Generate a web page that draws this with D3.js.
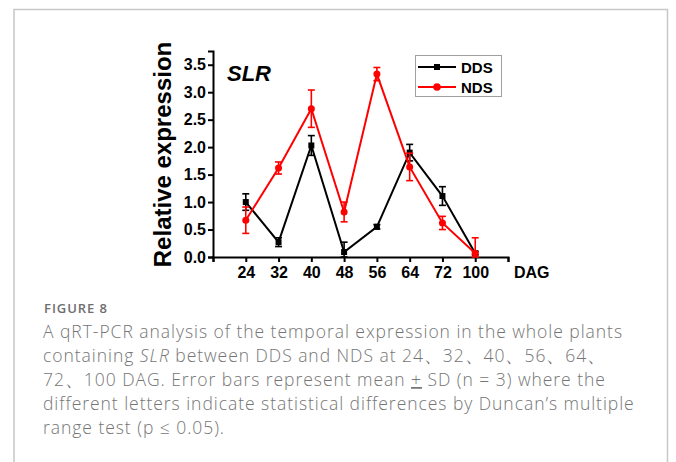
<!DOCTYPE html>
<html><head><meta charset="utf-8">
<script src="https://cdn.jsdelivr.net/npm/d3@7"></script>
<style>body{margin:0;background:#fff}svg{display:block}</style>
</head><body>
<svg id="c" width="676" height="462"></svg>
<script>
const categories = ["24","32","40","48","56","64","72","100"];
const ddsValues = [1.00, 0.27, 2.03, 0.09, 0.55, 1.90, 1.11, 0.07];
const ddsErrors = [0.15, 0.08, 0.18, 0.18, 0.04, 0.15, 0.17, 0.03];
const ndsValues = [0.67, 1.62, 2.70, 0.82, 3.33, 1.64, 0.62, 0.07];
const ndsErrors = [0.24, 0.11, 0.34, 0.18, 0.12, 0.25, 0.12, 0.28];
const yTicks = [0, 0.5, 1.0, 1.5, 2.0, 2.5, 3.0, 3.5];
const captionLines = [
  [{t:"A qRT-PCR analysis of the temporal expression in the whole plants"}],
  [{t:"containing "},{t:"SLR",i:true},{t:" between DDS and NDS at 24、32、40、56、64、"}],
  [{t:"72、100 DAG. Error bars represent mean "},{t:"+",u:true},{t:" SD (n = 3) where the"}],
  [{t:"different letters indicate statistical differences by Duncan’s multiple"}],
  [{t:"range test (p ≤ 0.05)."}]
];

const svg = d3.select("#c");
svg.append("path").attr("d","M14,470 V9.5 H667.5 V470").attr("fill","none").attr("stroke","#c8c8c8").attr("stroke-width",1.5);

const x = d3.scaleLinear().domain([0, categories.length+1]).range([213, 508]);
const y = d3.scaleLinear().domain([0, 3.75]).range([257, 51]);
const font = "'Liberation Sans', Arial, sans-serif";

const yAxis = svg.append("g").attr("transform","translate(213,0)")
  .call(d3.axisLeft(y).tickValues(yTicks).tickFormat(d3.format(".1f")).tickSizeOuter(0).tickSize(5).tickPadding(2));
const xAxis = svg.append("g").attr("transform","translate(0,257)")
  .call(d3.axisBottom(x).tickValues(d3.range(0, categories.length+2)).tickFormat(d => (d>=1 && d<=categories.length) ? categories[d-1] : "").tickSizeOuter(0).tickSize(5).tickPadding(5));
[yAxis, xAxis].forEach(a => {
  a.attr("font-size",null).attr("font-family",null);
  a.select(".domain").attr("stroke","#000").attr("stroke-width",2);
  a.selectAll(".tick line").attr("stroke","#000").attr("stroke-width",2);
  a.selectAll("text").style("font-family",font).style("font-weight","bold").style("font-size","16px").attr("fill","#000");
});
xAxis.selectAll(".tick text").attr("dy","0.71em");
svg.append("text").attr("x",514).attr("y",278).style("font-family",font).style("font-weight","bold").style("font-size","16px").text("DAG");

svg.append("text").attr("transform","translate(171,154.5) rotate(-90)").attr("text-anchor","middle")
  .style("font-family",font).style("font-weight","bold").style("font-size","24px").text("Relative expression");
svg.append("text").attr("x",227).attr("y",81).style("font-family",font).style("font-weight","bold").style("font-style","italic").style("font-size","22px").text("SLR");

function drawSeries(vals, errs, color, marker){
  const g = svg.append("g");
  const line = d3.line().x((d,i)=>x(i+1)).y(d=>y(d));
  g.append("path").datum(vals).attr("d",line).attr("fill","none").attr("stroke",color).attr("stroke-width",2);
  vals.forEach((v,i)=>{
    const cx = x(i+1), lo = y(Math.max(0, v-errs[i])), hi = y(v+errs[i]);
    g.append("line").attr("x1",cx).attr("x2",cx).attr("y1",lo).attr("y2",hi).attr("stroke",color).attr("stroke-width",1.6);
    [lo,hi].forEach(yy => g.append("line").attr("x1",cx-3.5).attr("x2",cx+3.5).attr("y1",yy).attr("y2",yy).attr("stroke",color).attr("stroke-width",1.6));
    if(marker==="square") g.append("rect").attr("x",cx-3).attr("y",y(v)-3).attr("width",6).attr("height",6).attr("fill",color);
    else g.append("circle").attr("cx",cx).attr("cy",y(v)).attr("r",3.5).attr("fill",color);
  });
}
drawSeries(ddsValues, ddsErrors, "#000", "square");
drawSeries(ndsValues, ndsErrors, "#ff0000", "circle");

const lg = svg.append("g");
lg.append("rect").attr("x",415.5).attr("y",55.5).attr("width",86).attr("height",41).attr("fill","#fff").attr("stroke","#a0a0a0").attr("stroke-width",1);
[["DDS","#000","square",67],["NDS","#ff0000","circle",87]].forEach(([n,c,m,yy])=>{
  lg.append("line").attr("x1",418).attr("x2",456).attr("y1",yy).attr("y2",yy).attr("stroke",c).attr("stroke-width",2);
  if(m==="square") lg.append("rect").attr("x",434).attr("y",yy-3).attr("width",6).attr("height",6).attr("fill",c);
  else lg.append("circle").attr("cx",437).attr("cy",yy).attr("r",3.8).attr("fill",c);
  lg.append("text").attr("x",461).attr("y",yy+5.5).style("font-family",font).style("font-weight","bold").style("font-size","15px").text(n);
});

const capFont = "'Open Sans', 'Noto Sans', sans-serif";
const fig = svg.append("text").attr("x",44).attr("y",313).style("font-family",capFont).style("font-weight","600").style("font-size","13px").attr("fill","#6e6e6e").text("FIGURE 8");
const capTexts = captionLines.map((parts,li)=>{
  const t = svg.append("text").attr("x",43).attr("y",338+li*24).style("font-family",capFont).style("font-weight","300").style("font-size","17.5px").attr("fill","#757575");
  parts.forEach(p=>{
    const s = t.append("tspan").text(p.t);
    if(p.i) s.style("font-style","italic");
    if(p.u) s.style("text-decoration","underline");
  });
  return t;
});
const w0 = capTexts[0].node().getComputedTextLength();
const n0 = captionLines[0][0].t.length;
const ls = Math.max(0, (580 - w0) / n0);
capTexts.forEach(t=>t.style("letter-spacing", ls.toFixed(3)+"px"));
const fw = fig.node().getComputedTextLength();
fig.style("letter-spacing", Math.max(0,(64-fw)/8).toFixed(3)+"px");
</script>
</body></html>
